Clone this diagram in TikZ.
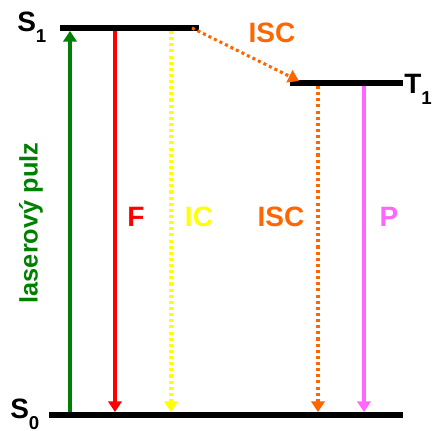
\documentclass[tikz,border=0pt]{standalone}
\usepackage{fontspec}
\setmainfont{Liberation Sans}
\usetikzlibrary{arrows.meta}
\definecolor{cgreen}{RGB}{0,128,0}
\definecolor{cred}{RGB}{255,0,0}
\definecolor{cyellow}{RGB}{255,255,0}
\definecolor{corange}{RGB}{255,102,0}
\definecolor{cmagenta}{RGB}{255,102,255}
\newcommand{\lvlname}[2]{#1\raisebox{-0.38em}{\fontsize{14}{14}\selectfont #2}}
\begin{document}
\begin{tikzpicture}[x=0.75pt,y=-0.75pt,
  level/.style={line width=4.5pt,black},
  trans/.style={line width=2.3pt,-{Triangle[width=10pt,length=8pt]}},
  dotline/.style={line width=2.3pt,dash pattern=on 2.3pt off 2.3pt,-{Triangle[width=10pt,length=8pt]}},
  lbl/.style={font=\fontsize{21}{24}\selectfont\bfseries,inner sep=0pt},
  sublbl/.style={font=\fontsize{21}{24}\selectfont\bfseries,inner sep=0pt}
]
\useasboundingbox (0,0) rectangle (433,431);
% levels
\coordinate (s1a) at (60,28); \coordinate (s1b) at (199,28);
\coordinate (t1a) at (290,83); \coordinate (t1b) at (403,83);
\coordinate (s0a) at (49,415); \coordinate (s0b) at (403,415);
\draw[level] (s1a) -- (s1b);
\draw[level] (t1a) -- (t1b);
\draw[level] (s0a) -- (s0b);
% level labels
\node[sublbl,anchor=base west] (ls1) at (17,32) {\lvlname{S}{1}};
\node[sublbl,anchor=base west] (lt1) at (404,94) {\lvlname{T}{1}};
\node[sublbl,anchor=base west] (ls0) at (10,419) {\lvlname{S}{0}};
% arrow endpoints
\coordinate (g0) at (70,412); \coordinate (g1) at (70,31);
\coordinate (r1) at (115,31); \coordinate (r0) at (115,412);
\coordinate (y1) at (171,31); \coordinate (y0) at (171,412);
\coordinate (o1) at (318,86); \coordinate (o0) at (318,412);
\coordinate (m1) at (364,86); \coordinate (m0) at (364,412);
\coordinate (d1) at (192,28); \coordinate (d0) at (299,81);
\draw[trans,cgreen] (g0) -- (g1);
\draw[trans,cred] (r1) -- (r0);
\draw[dotline,cyellow] (y1) -- (y0);
\draw[dotline,corange] (o1) -- (o0);
\draw[trans,cmagenta] (m1) -- (m0);
\draw[dotline,corange] (d1) -- (d0);
% labels
\node[lbl,cgreen,rotate=90,font=\fontsize{19}{22}\selectfont\bfseries] (lp) at (31,223) {laserový pulz};
\node[lbl,cred] (lf) at (136,217) {F};
\node[lbl,cyellow] (lic) at (199,217) {IC};
\node[lbl,corange] (lisc) at (281,217) {ISC};
\node[lbl,cmagenta] (lph) at (389,217) {P};
\node[lbl,corange] (lisct) at (272,33) {ISC};
\end{tikzpicture}
\end{document}
